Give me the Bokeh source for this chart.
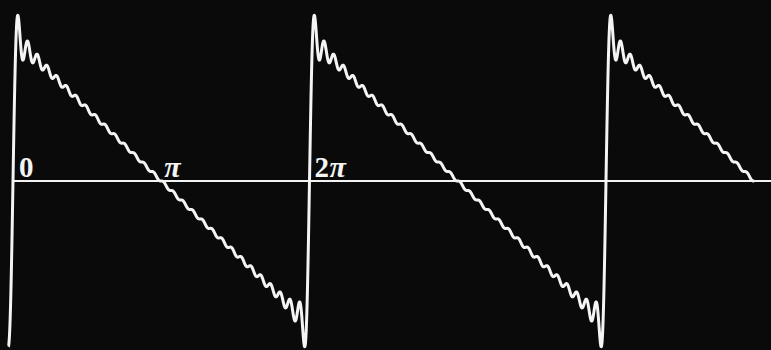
import numpy as np
from bokeh.plotting import figure
from bokeh.models import Range1d, ColumnDataSource
from bokeh.core.properties import value
from bokeh.embed import file_html
from bokeh.resources import INLINE

# ---- data -----------------------------------------------------------------
# partial Fourier sum of a sawtooth: amplitudes b_k of sin(k x), k = 1..30
harmonic_amplitudes = [1.0, 0.5, 0.3333, 0.25, 0.2, 0.1667, 0.1429, 0.125,
                       0.1111, 0.1, 0.0909, 0.0833, 0.0769, 0.0714, 0.0667,
                       0.0625, 0.0588, 0.0556, 0.0526, 0.05, 0.0476, 0.0455,
                       0.0435, 0.0417, 0.04, 0.0385, 0.037, 0.0357, 0.0345,
                       0.0333]
x_domain = [-0.1, 5 * np.pi]             # drawn part of the curve
tick_values = [0.0, np.pi, 2 * np.pi]
tick_labels = ["0", "π", "2π"]

# ---- styling ---------------------------------------------------------------
BG = "#0a0a0a"
FG = "#f4f4f4"
X_RANGE = (-0.2649, 16.0735)
Y_RANGE = (-1.842, 1.962)
digit_offsets = {"0": 6.0, "2": 5.0}
pi_offsets = [3.0, 20.0]

x = np.linspace(x_domain[0], x_domain[1], 9000)
y = np.zeros_like(x)
for k, b in enumerate(harmonic_amplitudes, start=1):
    y += b * np.sin(k * x)

p = figure(width=771, height=350,
           x_range=Range1d(*X_RANGE), y_range=Range1d(*Y_RANGE),
           toolbar_location=None, output_backend="svg",
           x_axis_location=None, y_axis_location=None,
           min_border=0, background_fill_color=BG, border_fill_color=BG,
           outline_line_color=None)
p.grid.visible = False

# horizontal axis line starting at 0
p.segment(x0=[tick_values[0]], y0=[0], x1=[X_RANGE[1]], y1=[0],
          line_color=FG, line_width=2)

p.line(x, y, line_color=FG, line_width=3, line_join="round")

# labels: digits upright bold, pi bold italic
dig_x, dig_t, dig_o = [], [], []
pi_x = []
for v, lab in zip(tick_values, tick_labels):
    num = lab.replace("π", "")
    if num:
        dig_x.append(v); dig_t.append(num); dig_o.append(digit_offsets[num])
    if "π" in lab:
        pi_x.append(v)

src_d = ColumnDataSource(dict(x=dig_x, y=[0] * len(dig_x), t=dig_t, o=dig_o))
p.text(x="x", y="y", text="t", x_offset="o", y_offset=-4, source=src_d,
       text_color=FG, text_font=value("Liberation Serif"),
       text_font_style="bold", text_font_size="29px",
       text_baseline="bottom", text_align="left")

src_p = ColumnDataSource(dict(x=pi_x, y=[0] * len(pi_x), t=["π"] * len(pi_x),
                              o=pi_offsets[:len(pi_x)]))
p.text(x="x", y="y", text="t", x_offset="o", y_offset=2, source=src_p,
       text_color=FG, text_font=value("Liberation Serif"),
       text_font_style="bold italic", text_font_size="30px",
       text_baseline="bottom", text_align="left")

html = file_html(p, INLINE)
html = html.replace("</head>", "<style>html,body{background:#0a0a0a;}</style></head>", 1)
open("out.html", "w").write(html)
